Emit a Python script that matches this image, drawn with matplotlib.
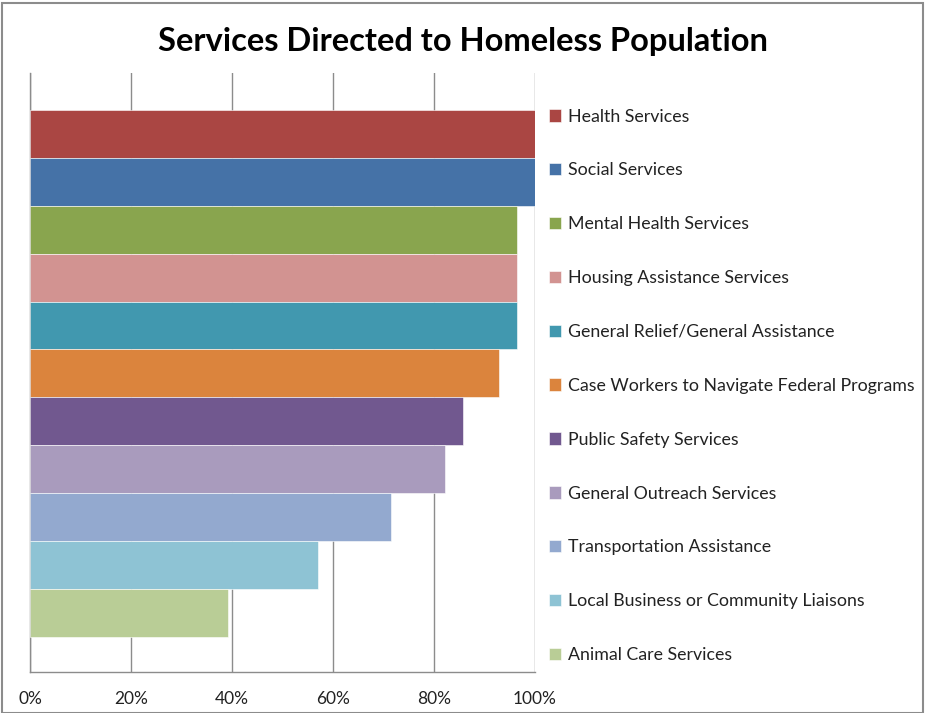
import matplotlib
matplotlib.use("Agg")
import matplotlib.pyplot as plt
from matplotlib.patches import Patch, Rectangle
from matplotlib.ticker import PercentFormatter

plt.rcParams['font.family'] = ['Lato', 'DejaVu Sans']

# services, top to bottom
services = ["Health Services", "Social Services", "Mental Health Services",
            "Housing Assistance Services", "General Relief/General Assistance",
            "Case Workers to Navigate Federal Programs", "Public Safety Services",
            "General Outreach Services", "Transportation Assistance",
            "Local Business or Community Liaisons", "Animal Care Services"]
shares = [1.0, 1.0, 0.964, 0.964, 0.964, 0.929, 0.857, 0.821, 0.714, 0.571, 0.393]
colours = ["#AA4643", "#4572A7", "#89A54E", "#D29391", "#4198AF", "#DB843D",
           "#71588F", "#A99BBD", "#93A9CF", "#8EC3D4", "#B9CD96"]

W, H = 926, 713
fig = plt.figure(figsize=(W / 100, H / 100), dpi=100)
ax = fig.add_axes([30 / W, 1 - 672 / H, 505 / W, 599 / H])

n = len(services)
for i in range(n):
    ax.barh(n - 1 - i, shares[i], height=1.0, color=colours[i],
            edgecolor="white", linewidth=0.4, label=services[i], zorder=3)

ax.set_xlim(0, 1)
ax.set_ylim(-1.23, n - 1 + 1.27)
ax.set_xticks([0, 0.2, 0.4, 0.6, 0.8, 1.0])
ax.xaxis.set_major_formatter(PercentFormatter(1.0, decimals=0))
ax.set_yticks([])
ax.grid(axis="x", color="#8c8c8c", linewidth=1.0, zorder=0)
ax.tick_params(axis="x", length=0, pad=14, labelsize=12.5, labelcolor="#222222")
for s in ["top", "right"]:
    ax.spines[s].set_visible(False)
for s in ["left", "bottom"]:
    ax.spines[s].set_color("#8c8c8c")
    ax.spines[s].set_linewidth(1.0)

handles = [Patch(facecolor=colours[i], edgecolor="white", linewidth=0.4)
           for i in range(n)]
fig.legend(handles, services, loc="upper left", bbox_to_anchor=(549 / W, 1 - 108.5 / H),
           frameon=False, fontsize=12.8, labelspacing=2.13, handlelength=0.7,
           handleheight=0.7, handletextpad=0.35, labelcolor="#222222",
           borderpad=0, borderaxespad=0)

fig.text(0.5, 1 - 42 / H, "Services Directed to Homeless Population",
         ha="center", va="center", fontsize=23.5, fontweight="bold")

fig.patches.append(Rectangle((2 / W, 0), 921 / W, 1 - 3 / H, transform=fig.transFigure,
                             fill=False, edgecolor="#8c8c8c", linewidth=1.5))

fig.savefig("out.png", dpi=100)
